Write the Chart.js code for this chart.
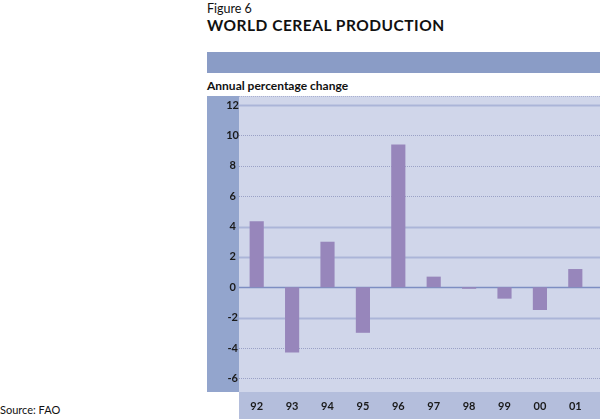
<!DOCTYPE html>
<html>
<head>
<meta charset="utf-8">
<script src="https://cdn.jsdelivr.net/npm/chart.js@4"></script>
<style>
  body { margin: 0; width: 600px; height: 419px; position: relative; background: #fff; font-family: Lato, "Open Sans", sans-serif; color: #111; overflow: hidden; }
  .fig { position: absolute; left: 207px; top: 1px; font-size: 12.5px; }
  .title { position: absolute; left: 207px; top: 16px; font-size: 15.5px; font-weight: bold; letter-spacing: 0.5px; }
  .band { position: absolute; left: 207px; top: 52px; width: 393px; height: 21px; background: #8a9cc6; }
  .unit { position: absolute; left: 207px; top: 78px; font-size: 12px; font-weight: bold; }
  .source { position: absolute; left: 0; top: 403px; font-size: 11px; }
  #wrap { position: absolute; left: 207px; top: 96px; width: 393px; height: 323px; }
</style>
</head>
<body>
<div class="fig">Figure 6</div>
<div class="title">WORLD CEREAL PRODUCTION</div>
<div class="band"></div>
<div class="unit">Annual percentage change</div>
<div class="source">Source: FAO</div>
<div id="wrap"><canvas id="chart"></canvas></div>
<script>
// Datos
const years = ['92', '93', '94', '95', '96', '97', '98', '99', '00', '01'];
const changes = [4.35, -4.3, 3.0, -3.0, 9.4, 0.7, -0.1, -0.75, -1.5, 1.2];
const yTicks = [-6, -4, -2, 0, 2, 4, 6, 8, 10, 12];
const dottedTicks = [10, 8, 6, -4, -6];

// Fondos y lineas de la rejilla
const backgroundPlugin = {
    id: 'backgrounds',
    beforeDraw(chart) {
        const ctx = chart.ctx;
        const area = chart.chartArea;
        const w = chart.width;
        const h = chart.height;
        ctx.save();
        ctx.fillStyle = '#93a5cd';
        ctx.fillRect(0, 0, area.left, area.bottom);
        ctx.fillStyle = '#d0d6ea';
        ctx.fillRect(area.left, 0, w - area.left, area.bottom);
        ctx.fillStyle = '#b4bedc';
        ctx.fillRect(area.left, area.bottom, w - area.left, h - area.bottom);
        ctx.restore();
    },
    beforeDatasetsDraw(chart) {
        const ctx = chart.ctx;
        const area = chart.chartArea;
        const y = chart.scales.y;
        const w = chart.width;
        ctx.save();
        // linea punteada superior
        ctx.strokeStyle = '#aab0d0';
        ctx.lineWidth = 1;
        ctx.setLineDash([1, 1]);
        ctx.beginPath();
        ctx.moveTo(area.left, 0.5);
        ctx.lineTo(w, 0.5);
        ctx.stroke();
        yTicks.forEach(function(v) {
            const py = Math.round(y.getPixelForValue(v));
            ctx.beginPath();
            if (v === 0) {
                ctx.setLineDash([]);
                ctx.strokeStyle = '#7d8ec2';
                ctx.lineWidth = 1.5;
            } else if (dottedTicks.includes(v)) {
                ctx.setLineDash([1, 1]);
                ctx.strokeStyle = '#9aa1c6';
                ctx.lineWidth = 1;
            } else {
                ctx.setLineDash([]);
                ctx.strokeStyle = '#abb5d8';
                ctx.lineWidth = 2;
            }
            ctx.moveTo(area.left, py + 0.5);
            ctx.lineTo(w, py + 0.5);
            ctx.stroke();
        });
        ctx.restore();
    }
};

const ctx = document.getElementById('chart').getContext('2d');
new Chart(ctx, {
    type: 'bar',
    data: {
        labels: years,
        datasets: [{
            data: changes,
            backgroundColor: '#9786bb',
            borderWidth: 0,
            barPercentage: 0.4,
            categoryPercentage: 1
        }]
    },
    options: {
        responsive: true,
        maintainAspectRatio: false,
        animation: false,
        layout: { padding: 0 },
        plugins: {
            legend: { display: false },
            tooltip: { enabled: false }
        },
        scales: {
            x: {
                grid: { display: false, drawTicks: false },
                border: { display: false },
                ticks: {
                    color: '#1a1a1a',
                    padding: 8,
                    font: { family: 'Lato', weight: 'bold', size: 11 }
                },
                afterFit(scale) {
                    scale.height = 27;
                    scale.paddingLeft = 0;
                    scale.paddingRight = 7;
                }
            },
            y: {
                min: -6.9,
                max: 12.6,
                grid: { display: false, drawTicks: false },
                border: { display: false },
                ticks: {
                    stepSize: 2,
                    includeBounds: false,
                    crossAlign: 'center',
                    padding: 0,
                    color: '#1a1a1a',
                    font: { family: 'Lato', weight: 'bold', size: 11 }
                },
                afterBuildTicks(scale) {
                    scale.ticks = yTicks.map(v => ({ value: v }));
                },
                afterFit(scale) {
                    scale.width = 32;
                    scale.paddingTop = 0;
                    scale.paddingBottom = 0;
                }
            }
        }
    },
    plugins: [backgroundPlugin]
});
</script>
</body>
</html>
